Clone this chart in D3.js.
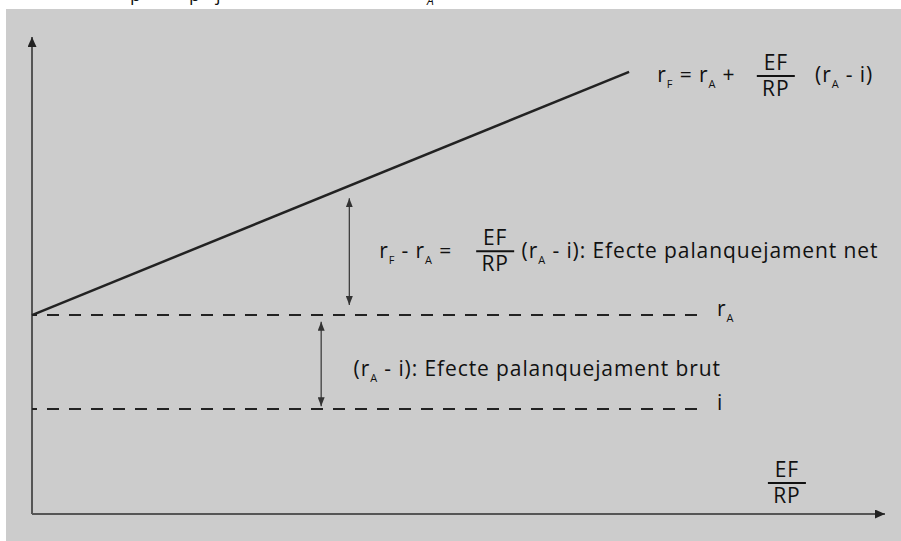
<!DOCTYPE html>
<html lang="ca">
<head>
  <meta charset="UTF-8">
  <title>Efecte palanquejament</title>
  <script src="https://d3js.org/d3.v7.min.js"></script>
  <style>
    body { margin: 0; background: #fff; }
    svg { display: block; }
    text { font-family: "Open Sans", sans-serif; fill: #111; }
    .ann text { letter-spacing: 0.9px; }
  </style>
</head>
<body>
  <svg id="chart" width="901" height="541"></svg>
  <script>
    // values (arbitrary units, 0-100 on both axes)
    const efrpRange = [0, 70];       // EF/RP span of the r_F line
    const rFValues = [41.7, 92.7];   // r_F at both ends
    const rA = 41.7;
    const iRate = 22;
    const dashedEnd = 78;
    const levels = [
      { name: "rA", value: rA, label: [["r"], ["A", "sub"]] },
      { name: "i", value: iRate, label: [["i"]] }
    ];
    // double arrows: [x, yFrom, yTo]
    const spans = [
      { x: 37.2, from: 43.8, to: 66.2 },
      { x: 33.9, from: 22.6, to: 40.3 }
    ];

    const W = 901, H = 541;
    const svg = d3.select("#chart");

    const x = d3.scaleLinear().domain([0, 100]).range([32, 885]);
    const y = d3.scaleLinear().domain([0, 100]).range([514, 37]);

    // caption of the page above, cut off by the crop
    const cap = svg.append("g").attr("font-size", 18);
    [["p", 130, 1], ["p", 189, 1], ["j", 216, 1]].forEach(([t, cx, cy]) =>
      cap.append("text").attr("x", cx).attr("y", cy).text(t));
    cap.append("text").attr("x", 427).attr("y", 5).attr("font-size", 12)
      .attr("font-style", "italic").text("A");

    svg.append("rect")
      .attr("x", 6).attr("y", 9)
      .attr("width", W - 6).attr("height", H - 9)
      .attr("fill", "#cccccc");

    const defs = svg.append("defs");
    function marker(id, w, h, color) {
      defs.append("marker")
        .attr("id", id)
        .attr("viewBox", `0 0 ${h} ${w}`)
        .attr("refX", h).attr("refY", w / 2)
        .attr("markerWidth", h).attr("markerHeight", w)
        .attr("markerUnits", "userSpaceOnUse")
        .attr("orient", "auto-start-reverse")
        .append("path")
        .attr("d", `M0,0L${h},${w / 2}L0,${w}Z`)
        .attr("fill", color);
    }
    marker("axisArrow", 9, 10, "#222");
    marker("smallArrow", 7, 9, "#333");

    // axes
    svg.append("path")
      .attr("d", `M${x(0)},${y(0)}V${y(100)}`)
      .attr("stroke", "#555").attr("stroke-width", 2)
      .attr("marker-end", "url(#axisArrow)");
    svg.append("path")
      .attr("d", `M${x(0)},${y(0)}H${x(100)}`)
      .attr("stroke", "#555").attr("stroke-width", 2)
      .attr("marker-end", "url(#axisArrow)");

    // dashed reference levels
    svg.selectAll(".level")
      .data(levels)
      .join("line")
        .attr("class", "level")
        .attr("x1", x(0)).attr("x2", x(dashedEnd))
        .attr("y1", d => y(d.value)).attr("y2", d => y(d.value))
        .attr("stroke", "#222").attr("stroke-width", 2)
        .attr("stroke-dasharray", "12,10")
        .attr("stroke-dashoffset", 7);

    // r_F line
    const line = d3.line().x(d => x(d[0])).y(d => y(d[1]));
    svg.append("path")
      .attr("d", line(efrpRange.map((v, k) => [v, rFValues[k]])))
      .attr("fill", "none")
      .attr("stroke", "#222").attr("stroke-width", 2.5);

    // double arrows
    svg.selectAll(".span")
      .data(spans)
      .join("line")
        .attr("class", "span")
        .attr("x1", d => x(d.x)).attr("x2", d => x(d.x))
        .attr("y1", d => y(d.from)).attr("y2", d => y(d.to))
        .attr("stroke", "#333").attr("stroke-width", 1.2)
        .attr("marker-start", "url(#smallArrow)")
        .attr("marker-end", "url(#smallArrow)");

    // rich text helper: parts = [[text, "sub"?], ...]
    const FS = 21, SUB = 11, DROP = 6;
    function rich(g, px, py, parts) {
      const t = g.append("text").attr("x", px).attr("y", py).attr("font-size", FS);
      let down = false;
      parts.forEach(([s, kind]) => {
        const sp = t.append("tspan").text(s);
        if (kind === "sub") {
          sp.attr("font-size", SUB).attr("dy", DROP);
          down = true;
        } else if (down) {
          sp.attr("dy", -DROP);
          down = false;
        }
      });
      return t;
    }
    const HALF = 19;
    function fraction(g, cx, barY, num, den) {
      g.append("line")
        .attr("x1", cx - HALF).attr("x2", cx + HALF)
        .attr("y1", barY).attr("y2", barY)
        .attr("stroke", "#111").attr("stroke-width", 2);
      g.append("text").attr("x", cx).attr("y", barY - 6)
        .attr("text-anchor", "middle").attr("font-size", FS).text(num);
      g.append("text").attr("x", cx).attr("y", barY + 20)
        .attr("text-anchor", "middle").attr("font-size", FS).text(den);
    }

    const ann = svg.append("g").attr("class", "ann");

    // formula of the r_F line
    rich(ann, x(73.3), y(90.6), [["r"], ["F", "sub"], [" = r"], ["A", "sub"], [" +"]]);
    fraction(ann, x(87.2), y(91.8), "EF", "RP");
    rich(ann, x(91.8), y(90.6), [["(r"], ["A", "sub"], [" - i)"]]);

    // net effect
    rich(ann, x(40.7), y(53.7), [["r"], ["F", "sub"], [" - r"], ["A", "sub"], [" ="]]);
    fraction(ann, x(54.3), y(55.1), "EF", "RP");
    rich(ann, x(57.4), y(53.7), [["(r"], ["A", "sub"], [" - i): Efecte palanquejament net"]]);

    // gross effect
    rich(ann, x(37.7), y(28.9), [["(r"], ["A", "sub"], [" - i): Efecte palanquejament brut"]]);

    // level labels
    levels.forEach(d => rich(ann, x(80.3), y(d.value) + 1, d.label));

    // x axis title
    fraction(ann, x(88.5), y(6.5), "EF", "RP");
  </script>
</body>
</html>
